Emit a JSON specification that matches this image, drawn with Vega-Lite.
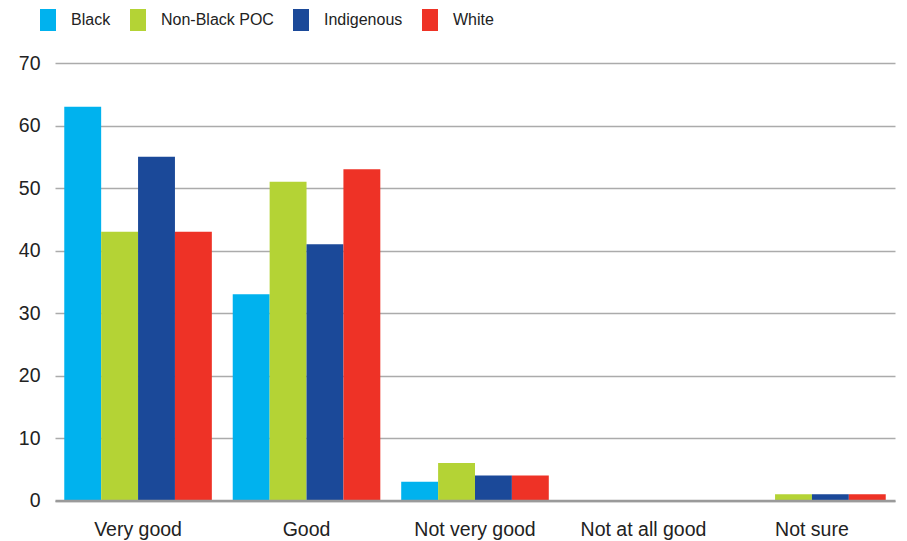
{
  "$schema": "https://vega.github.io/schema/vega-lite/v6.json",
  "width": 840,
  "height": 437.5,
  "autosize": {"type": "none"},
  "padding": {"left": 55, "top": 63, "right": 12, "bottom": 41},
  "background": "#ffffff",
  "config": {
    "view": {"stroke": null},
    "font": "Liberation Sans",
    "axis": {"labelFont": "Liberation Sans", "labelColor": "#222222"},
    "legend": {"labelFont": "Liberation Sans", "labelColor": "#222222"}
  },
  "data": {
    "values": [
      {"rating": "Very good", "group": "Black", "pct": 63},
      {"rating": "Very good", "group": "Non-Black POC", "pct": 43},
      {"rating": "Very good", "group": "Indigenous", "pct": 55},
      {"rating": "Very good", "group": "White", "pct": 43},
      {"rating": "Good", "group": "Black", "pct": 33},
      {"rating": "Good", "group": "Non-Black POC", "pct": 51},
      {"rating": "Good", "group": "Indigenous", "pct": 41},
      {"rating": "Good", "group": "White", "pct": 53},
      {"rating": "Not very good", "group": "Black", "pct": 3},
      {"rating": "Not very good", "group": "Non-Black POC", "pct": 6},
      {"rating": "Not very good", "group": "Indigenous", "pct": 4},
      {"rating": "Not very good", "group": "White", "pct": 4},
      {"rating": "Not at all good", "group": "Black", "pct": 0},
      {"rating": "Not at all good", "group": "Non-Black POC", "pct": 0},
      {"rating": "Not at all good", "group": "Indigenous", "pct": 0},
      {"rating": "Not at all good", "group": "White", "pct": 0},
      {"rating": "Not sure", "group": "Black", "pct": 0},
      {"rating": "Not sure", "group": "Non-Black POC", "pct": 1},
      {"rating": "Not sure", "group": "Indigenous", "pct": 1},
      {"rating": "Not sure", "group": "White", "pct": 1}
    ]
  },
  "mark": {"type": "bar"},
  "encoding": {
    "x": {
      "field": "rating",
      "type": "nominal",
      "sort": ["Very good", "Good", "Not very good", "Not at all good", "Not sure"],
      "scale": {"paddingInner": 0.124, "paddingOuter": 0.055},
      "axis": {
        "title": null,
        "labelAngle": 0,
        "labelFontSize": 19.5,
        "labelPadding": 20,
        "ticks": false,
        "domain": true,
        "domainColor": "#9a9a9a",
        "domainWidth": 2.5,
        "zindex": 1
      }
    },
    "xOffset": {
      "field": "group",
      "type": "nominal",
      "sort": ["Black", "Non-Black POC", "Indigenous", "White"],
      "scale": {"paddingInner": 0, "paddingOuter": 0}
    },
    "y": {
      "field": "pct",
      "type": "quantitative",
      "scale": {"domain": [0, 70], "nice": false},
      "axis": {
        "title": null,
        "values": [0, 10, 20, 30, 40, 50, 60, 70],
        "labelFontSize": 19.5,
        "labelPadding": 15,
        "ticks": false,
        "domain": false,
        "grid": true,
        "gridColor": "#ababab",
        "gridWidth": 1.5
      }
    },
    "color": {
      "field": "group",
      "type": "nominal",
      "scale": {
        "domain": ["Black", "Non-Black POC", "Indigenous", "White"],
        "range": ["#00b2ee", "#b4d335", "#1b4999", "#ee3226"]
      },
      "legend": {
        "title": null,
        "orient": "none",
        "direction": "horizontal",
        "legendX": -18,
        "legendY": -54,
        "symbolType": "M-0.73,-1L0.73,-1L0.73,1L-0.73,1Z",
        "symbolSize": 484,
        "symbolStrokeWidth": 0,
        "labelFontSize": 16,
        "labelOffset": 12,
        "columnPadding": 16,
        "padding": 0
      }
    }
  }
}
